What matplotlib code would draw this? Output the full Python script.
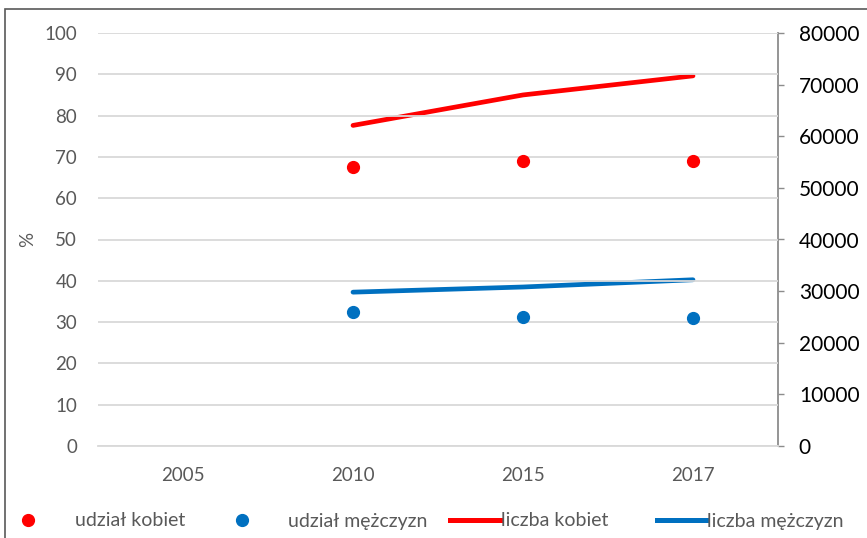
import matplotlib
matplotlib.use("Agg")
import matplotlib.pyplot as plt
from matplotlib.lines import Line2D
from matplotlib.patches import Rectangle

years = ["2005", "2010", "2015", "2017"]
share_women = [None, 67.6, 68.9, 69.0]
share_men = [None, 32.4, 31.2, 31.0]
count_women = [None, 62100, 68000, 71700]
count_men = [None, 29800, 30800, 32200]

left_ticks = list(range(0, 101, 10))
right_ticks = list(range(0, 80001, 10000))

RED = "#FF0000"
BLUE = "#0070C0"
GRAY = "#595959"
FONT = ["Lato", "DejaVu Sans"]
plt.rcParams["font.family"] = FONT

fig = plt.figure(figsize=(8.67, 5.38), dpi=100)
ax = fig.add_axes([98/867, 1-446/538, (778-98)/867, (446-33)/538])
ax2 = ax.twinx()

x = list(range(len(years)))

def pts(vals):
    xs = [i for i, v in zip(x, vals) if v is not None]
    ys = [v for v in vals if v is not None]
    return xs, ys

ax.set_xlim(-0.5, len(years) - 0.5)
ax.set_ylim(0, 100)
ax2.set_ylim(0, 80000)
ax.set_yticks(left_ticks)
ax2.set_yticks(right_ticks)
ax.set_xticks(x)
ax.set_xticklabels(years)

ax.grid(axis="y", color="#D9D9D9", linewidth=1.3)
ax.set_axisbelow(True)
for s in ["top", "right", "left", "bottom"]:
    ax.spines[s].set_visible(False)
for s in ["top", "left", "bottom"]:
    ax2.spines[s].set_visible(False)
ax.spines["bottom"].set_visible(True)
ax.spines["bottom"].set_color("#D9D9D9")
ax.spines["bottom"].set_linewidth(1.3)
ax2.spines["right"].set_color("#8C8C8C")
ax2.spines["right"].set_linewidth(1.3)

ax.tick_params(axis="y", length=0, labelsize=13.5, labelcolor=GRAY, pad=15)
ax.tick_params(axis="x", length=0, labelsize=13.5, labelcolor=GRAY, pad=15)
ax2.tick_params(axis="y", length=4, width=1.0, color="#8C8C8C", labelsize=15, labelcolor="black", pad=11)

ax.set_ylabel("%", fontsize=13.5, color=GRAY, labelpad=6)

xs, ys = pts(count_women)
ax2.plot(xs, ys, color=RED, lw=3.4, solid_capstyle="round")
xs, ys = pts(count_men)
ax2.plot(xs, ys, color=BLUE, lw=3.4, solid_capstyle="round")

ax.set_zorder(ax2.get_zorder() + 1)
ax.patch.set_visible(False)
xs, ys = pts(share_women)
ax.plot(xs, ys, "o", color=RED, ms=8.5, zorder=5)
xs, ys = pts(share_men)
ax.plot(xs, ys, "o", color=BLUE, ms=8.5, zorder=5)

# frame around chart
fig.patches.append(Rectangle((5/867, -0.1), 1.2, 1 - 9/538 + 0.1, transform=fig.transFigure,
                             fill=False, edgecolor=GRAY, linewidth=1.2, clip_on=False))

h1 = Line2D([], [], ls="none", marker="o", color=RED, ms=8.5)
h2 = Line2D([], [], ls="none", marker="o", color=BLUE, ms=8.5)
h3 = Line2D([], [], color=RED, lw=3.6)
h4 = Line2D([], [], color=BLUE, lw=3.6)

prop = {"family": FONT, "weight": "normal", "size": 14}
fig.legend([h1, h2], ["udział kobiet", "udział mężczyzn"], loc="center left",
           bbox_to_anchor=(7/867, 1 - 521/538), ncol=2, frameon=False,
           prop=prop, labelcolor=GRAY, handlelength=1.8, handletextpad=1.5,
           columnspacing=2.0, borderaxespad=0, borderpad=0.2)
fig.legend([h3, h4], ["liczba kobiet", "liczba mężczyzn"], loc="center left",
           bbox_to_anchor=(450/867, 1 - 521/538), ncol=2, frameon=False,
           prop=prop, labelcolor=GRAY, handlelength=2.6, handletextpad=0.0,
           columnspacing=2.5, borderaxespad=0, borderpad=0)

fig.savefig("out.png", dpi=100)
